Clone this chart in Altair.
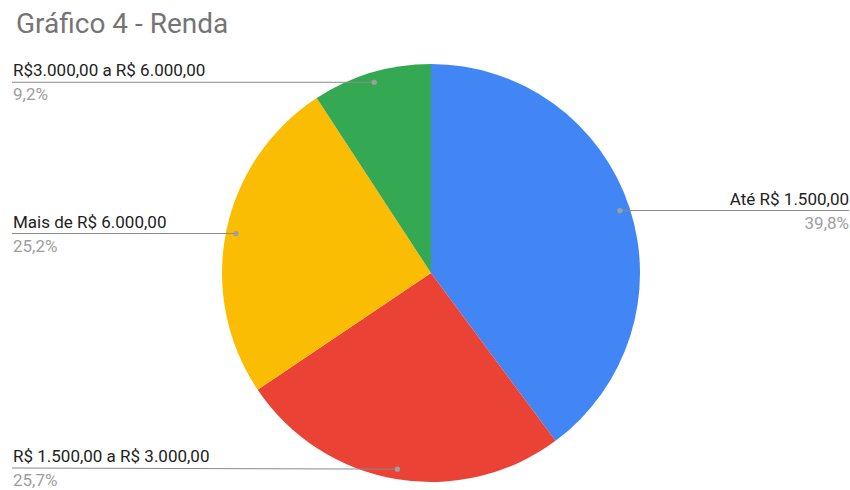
import altair as alt
import pandas as pd

# ---- data ----
TITLE = "Gráfico 4 - Renda"
categories = ["Até R$ 1.500,00", "R$ 1.500,00 a R$ 3.000,00", "Mais de R$ 6.000,00", "R$3.000,00 a R$ 6.000,00"]
shares = [39.8, 25.7, 25.2, 9.2]
pct_labels = ["39,8%", "25,7%", "25,2%", "9,2%"]
colors = ["#4285F4", "#EA4335", "#FBBC04", "#34A853"]
order = [1, 2, 3, 4]

# ---- layout ----
W, H = 850, 490
CX, CY, R = 431, 273, 209
RD = 199          # radius of the label anchor dots
LEFT, RIGHT = 12, 849
BOTTOM_LIMIT = 468
FONT = "Roboto"

df = pd.DataFrame({"cat": categories, "share": shares, "pct": pct_labels, "ord": order})
color_scale = alt.Scale(domain=categories, range=colors)

base = alt.Chart(df)

pie = base.mark_arc(outerRadius=R).encode(
    theta=alt.Theta("share:Q", stack=True),
    color=alt.Color("cat:N", scale=color_scale, legend=None),
    order=alt.Order("ord:Q"),
    x=alt.value(CX),
    y=alt.value(CY),
)

geo = base.transform_window(
    cum="sum(share)", sort=[alt.SortField("ord")], frame=[None, 0]
).transform_joinaggregate(
    total="sum(share)"
).transform_calculate(
    mid="(datum.cum - datum.share / 2) / datum.total * 2 * PI"
).transform_calculate(
    dx=f"{CX} + {RD} * sin(datum.mid)",
    dy=f"{CY} - {RD} * cos(datum.mid)",
).transform_calculate(
    side=f"datum.dx < {CX} ? 'left' : 'right'",
    ly=f"min(datum.dy, {BOTTOM_LIMIT})",
).transform_calculate(
    lx=f"datum.side == 'left' ? {LEFT} : {RIGHT}",
    tx=f"datum.side == 'left' ? {LEFT + 1} : {RIGHT}",
    ty1="datum.ly - 6",
    ty2="datum.ly + 18",
)

X = lambda f: alt.X(f, scale=None, axis=None)
Y = lambda f: alt.Y(f, scale=None, axis=None)

rules = geo.mark_rule(color="#8a8a8a", strokeWidth=1).encode(
    x=X("lx:Q"), y=Y("ly:Q"), x2="dx:Q", y2="dy:Q"
)
dots = geo.mark_circle(size=28, color="#9e9e9e", opacity=1).encode(
    x=X("dx:Q"), y=Y("dy:Q")
)

def labels(side, align):
    g = geo.transform_filter(f"datum.side == '{side}'")
    names = g.mark_text(align=align, baseline="alphabetic", font=FONT, fontSize=17,
                        color="#222222").encode(x=X("tx:Q"), y=Y("ty1:Q"), text="cat:N")
    pcts = g.mark_text(align=align, baseline="alphabetic", font=FONT, fontSize=17,
                       color="#9e9e9e").encode(x=X("tx:Q"), y=Y("ty2:Q"), text="pct:N")
    return names + pcts

title = alt.Chart(pd.DataFrame({"t": [TITLE]})).mark_text(
    align="left", baseline="alphabetic", font=FONT, fontSize=28, color="#757575"
).encode(text="t:N", x=alt.value(16), y=alt.value(33))

chart = alt.layer(
    pie, rules, dots, labels("left", "left"), labels("right", "right"), title
).properties(
    width=W, height=H, padding=0, autosize=alt.AutoSizeParams(type="none")
).configure_view(stroke=None)

chart.save("out.html", embed_options={"renderer": "svg", "actions": False})
